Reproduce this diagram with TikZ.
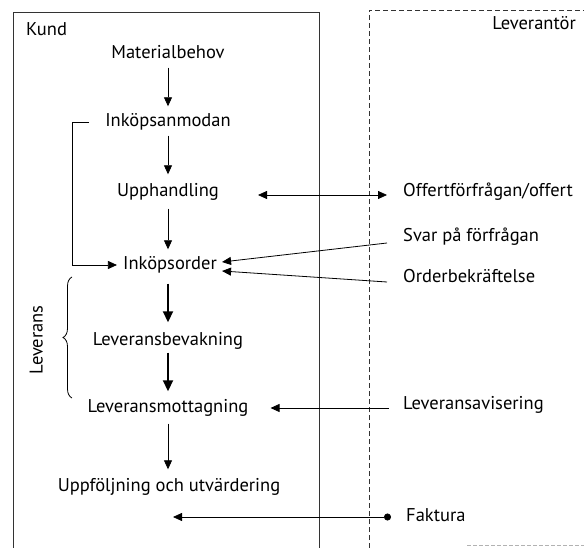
\documentclass[tikz,border=0pt]{standalone}
\usepackage{fontspec}
\setmainfont{PT Sans}
\usetikzlibrary{arrows.meta,decorations.pathreplacing}
\begin{document}
\begin{tikzpicture}[x=1pt,y=-1pt,
  lbl/.style={font=\fontsize{18.5}{20}\selectfont, inner sep=0pt, text height=13pt, text depth=4pt},
  rlbl/.style={lbl, anchor=west},
  frame/.style={line width=0.9pt, black!80},
  arr/.style={line width=0.8pt, -{Triangle[length=9pt,width=8pt]}},
  thick arr/.style={line width=1.8pt, -{Triangle[length=11pt,width=10pt]}},
  both/.style={line width=0.8pt, {Triangle[length=9pt,width=8pt]}-{Triangle[length=9pt,width=8pt]}},
  feed/.style={line width=0.8pt, -{Triangle[length=9pt,width=8pt]}}
]
\useasboundingbox (0,0) rectangle (584,548);

% swim lanes
\draw[frame] (13,548) -- (13,12) -- (319,12) -- (319,548);
\draw[frame, dashed, dash pattern=on 5pt off 3pt] (369,548) -- (369,10) -- (584,10);
\draw[black!30, dashed, dash pattern=on 4pt off 2pt] (467,545) -- (584,545);

\node[lbl, anchor=west] (kund) at (26,31) {Kund};
\node[lbl, anchor=east] (lev) at (576,25) {Leverantör};

% purchasing process
\node[lbl] (mat) at (168,54) {Materialbehov};
\node[lbl] (anm) at (168,122) {Inköpsanmodan};
\node[lbl] (upph) at (168,192) {Upphandling};
\node[lbl] (order) at (170,265) {Inköpsorder};
\node[lbl] (bev) at (168,341) {Leveransbevakning};
\node[lbl] (mott) at (168,408) {Leveransmottagning};
\node[lbl] (uppf) at (169,487) {Uppföljning och utvärdering};

\draw[arr, shorten <=5pt, shorten >=7pt] (mat) -- (anm);
\draw[arr, shorten <=5pt, shorten >=9pt] (anm) -- (upph);
\draw[arr, shorten <=8pt, shorten >=7pt] (upph) -- (order.north -| upph);
\draw[thick arr, shorten <=10pt, shorten >=10pt] (order.south -| bev) -- (bev);
\draw[thick arr, shorten <=3pt, shorten >=8pt] (bev) -- (mott);
\draw[arr, shorten <=7pt, shorten >=9pt] (mott) -- (uppf.north -| mott);

% direct route from requisition to order
\coordinate (loopL) at (72,122);
\draw[arr] ([xshift=-16pt]anm.west) -- (loopL) |- ([xshift=-6pt]order.west);

% delivery bracket
\draw[line width=0.8pt, decorate, decoration={brace, amplitude=9pt}] (72,398) -- (72,277);
\node[lbl, rotate=90] (leverans) at (38,340) {Leverans};

% supplier messages
\node[rlbl] (offert) at (403,192) {Offertförfrågan/offert};
\node[rlbl] (svar) at (403,237) {Svar på förfrågan};
\node[rlbl] (ordb) at (403,278) {Orderbekräftelse};
\node[rlbl] (avis) at (403,405) {Leveransavisering};
\node[rlbl] (fakt) at (406,517) {Faktura};

\coordinate (offL) at (258,195);
\draw[both] (offL) -- ([xshift=-16pt,yshift=-3pt]offert.west);
\draw[feed] ([xshift=-16pt,yshift=-6pt]svar.west) -- ([xshift=5pt,yshift=3pt]order.east);
\draw[feed] ([xshift=-16pt,yshift=-4pt]ordb.west) -- ([xshift=5pt,yshift=-6pt]order.east);
\draw[feed] ([xshift=-14pt,yshift=-3pt]avis.west) -- ([xshift=22pt]mott.east);
\coordinate (faktL) at (173,517);
\draw[line width=0.8pt, {Triangle[length=9pt,width=8pt]}-{Circle[length=7pt]}] (faktL) -- ([xshift=-15pt]fakt.west);
\end{tikzpicture}
\end{document}
